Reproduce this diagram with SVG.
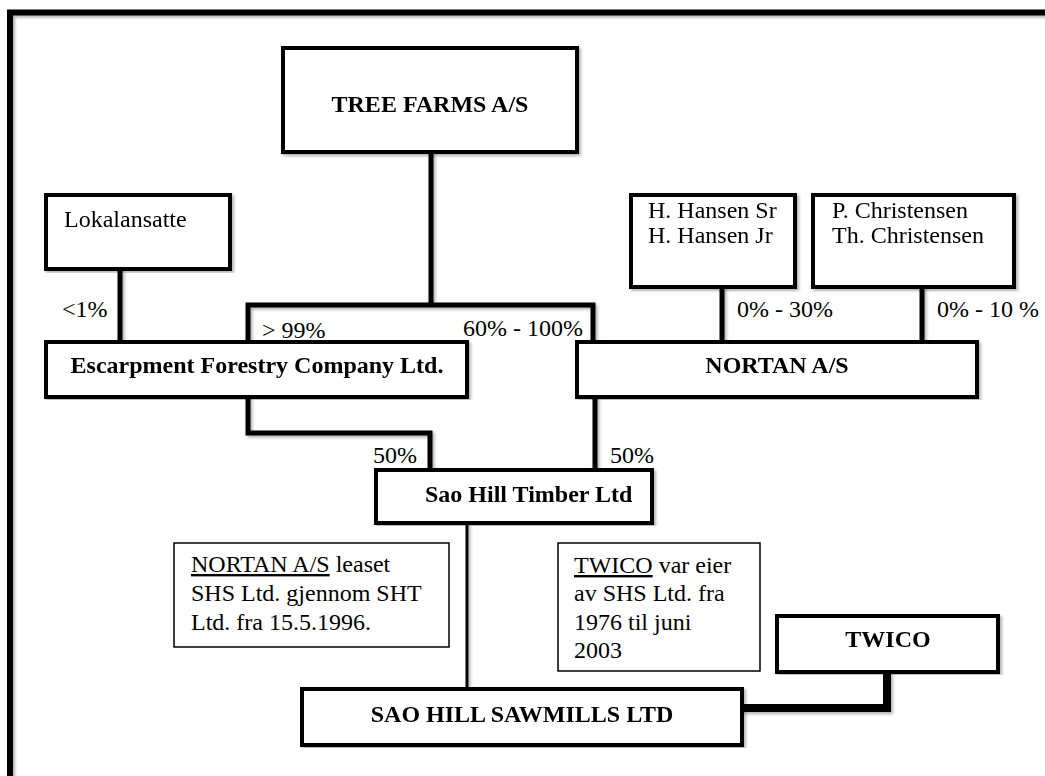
<svg xmlns="http://www.w3.org/2000/svg" width="1045" height="776" viewBox="0 0 1045 776">
<defs>
<filter id="sh" x="-5%" y="-5%" width="110%" height="110%">
<feDropShadow dx="2" dy="2" stdDeviation="1.5" flood-color="#000" flood-opacity="0.3"/>
</filter>
</defs>
<style>
.box{fill:#fff;stroke:#000;stroke-width:4;stroke-linejoin:miter}
.note{fill:#fff;stroke:#000;stroke-width:1.5}
.t{font-family:"Liberation Serif","Times New Roman",serif;font-size:24px;fill:#000}
.b{font-weight:bold}
.c{text-anchor:middle}
.ln{fill:none;stroke:#000;stroke-width:5;stroke-linejoin:miter}
</style>
<rect width="1045" height="776" fill="#fff"/>
<g id="frame" filter="url(#sh)">
<path d="M10,776 V12.5 H1045" fill="none" stroke="#000" stroke-width="6"/>
</g>
<g id="connectors" filter="url(#sh)">
<path class="ln" d="M431,152 V305"/>
<path class="ln" d="M248,342 V305 H593 V342"/>
<path class="ln" d="M120,269 V342"/>
<path class="ln" d="M722,287 V342"/>
<path class="ln" d="M922,287 V342"/>
<path class="ln" d="M248,397 V433 H430 V470"/>
<path class="ln" d="M595,397 V470"/>
<path class="ln" d="M467,523 V689" style="stroke-width:3"/>
<path class="ln" d="M887,672 V708 H742" style="stroke-width:8"/>
</g>
<g id="tree-farms" filter="url(#sh)">
<rect class="box" x="283" y="48" width="294" height="104"/>
<text class="t b c" x="430" y="112">TREE FARMS A/S</text>
</g>
<g id="lokalansatte" filter="url(#sh)">
<rect class="box" x="46" y="195" width="184" height="74"/>
<text class="t" x="64" y="227">Lokalansatte</text>
</g>
<g id="hansen" filter="url(#sh)">
<rect class="box" x="631" y="195" width="164" height="92"/>
<text class="t" x="648" y="218">H. Hansen Sr</text>
<text class="t" x="648" y="243">H. Hansen Jr</text>
</g>
<g id="christensen" filter="url(#sh)">
<rect class="box" x="813" y="195" width="201" height="92"/>
<text class="t" x="832" y="218">P. Christensen</text>
<text class="t" x="832" y="243">Th. Christensen</text>
</g>
<g id="escarpment" filter="url(#sh)">
<rect class="box" x="46" y="342" width="421" height="55"/>
<text class="t b c" x="257" y="373">Escarpment Forestry Company Ltd.</text>
</g>
<g id="nortan" filter="url(#sh)">
<rect class="box" x="577" y="342" width="400" height="55"/>
<text class="t b c" x="777" y="373">NORTAN A/S</text>
</g>
<g id="sao-hill-timber" filter="url(#sh)">
<rect class="box" x="376" y="470" width="276" height="53"/>
<text class="t b" x="425" y="502">Sao Hill Timber Ltd</text>
</g>
<g id="note-nortan">
<rect class="note" x="174" y="543" width="275" height="104"/>
<text class="t" x="191" y="572"><tspan text-decoration="underline">NORTAN A/S</tspan> leaset</text>
<text class="t" x="191" y="601">SHS Ltd. gjennom SHT</text>
<text class="t" x="191" y="630">Ltd. fra 15.5.1996.</text>
</g>
<g id="note-twico">
<rect class="note" x="558" y="543" width="202" height="128"/>
<text class="t" x="574" y="573"><tspan text-decoration="underline">TWICO</tspan> var eier</text>
<text class="t" x="574" y="601">av SHS Ltd. fra</text>
<text class="t" x="574" y="630">1976 til juni</text>
<text class="t" x="574" y="658">2003</text>
</g>
<g id="twico" filter="url(#sh)">
<rect class="box" x="777" y="616" width="221" height="56"/>
<text class="t b c" x="888" y="647">TWICO</text>
</g>
<g id="sawmills" filter="url(#sh)">
<rect class="box" x="302" y="689" width="440" height="56"/>
<text class="t b c" x="522" y="722">SAO HILL SAWMILLS LTD</text>
</g>
<g id="labels">
<text class="t" x="62" y="317">&lt;1%</text>
<text class="t" x="262" y="338">&gt; 99%</text>
<text class="t" x="463" y="336">60% - 100%</text>
<text class="t" x="737" y="317">0% - 30%</text>
<text class="t" x="937" y="317">0% - 10 %</text>
<text class="t" x="373" y="463">50%</text>
<text class="t" x="610" y="463">50%</text>
</g>
</svg>
